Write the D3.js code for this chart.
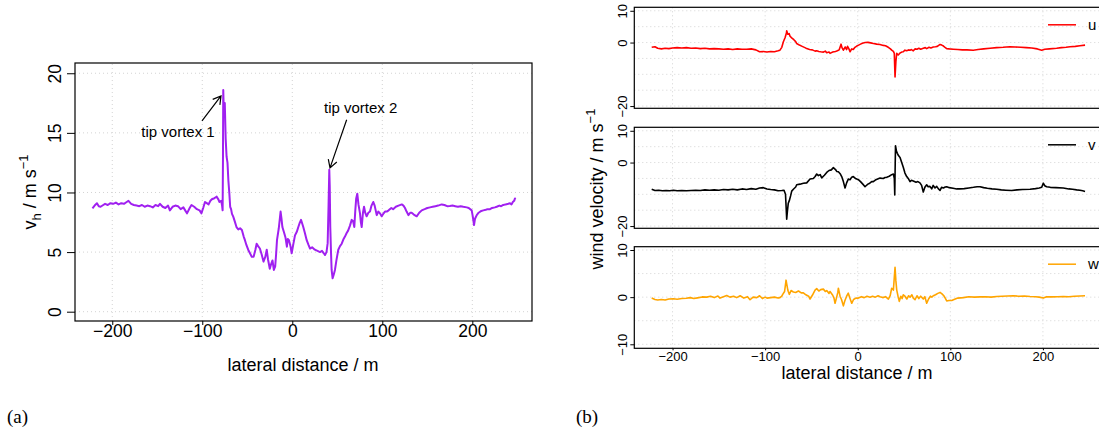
<!DOCTYPE html>
<html>
<head>
<meta charset="utf-8">
<script src="https://cdnjs.cloudflare.com/ajax/libs/d3/7.8.5/d3.min.js"></script>
<style>
  body { margin: 0; background: #fff; }
  svg { display: block; font-family: "Liberation Sans", Arial, sans-serif; }
</style>
</head>
<body>
<div id="content"></div>
<script>
// values: [lateral distance (m), velocity (m/s)]
const vhData = [[-222,8.67],[-219,8.95],[-217,9.1],[-215,8.85],[-213,8.8],[-210,8.95],[-208,9.05],[-205,8.95],[-202,9.1],[-199,9.05],[-196,9.15],[-193,9.0],[-190,9.1],[-187,9.05],[-184,9.2],[-182,9.3],[-179,9.05],[-176,8.95],[-173,8.9],[-170,8.85],[-167,8.95],[-164,8.8],[-161,8.9],[-158,8.85],[-155,8.75],[-152,8.95],[-149,8.85],[-147,9.05],[-144,8.8],[-141,8.7],[-138,8.9],[-136,8.5],[-133,8.8],[-130,8.9],[-127,8.85],[-124,8.6],[-121,8.75],[-119,8.5],[-117,8.25],[-114,8.7],[-112,8.95],[-109,8.8],[-106,8.6],[-103,8.5],[-101,8.25],[-99,8.7],[-97,9.2],[-95,9.1],[-93,9.0],[-91,9.3],[-89,9.45],[-87,9.5],[-85,9.6],[-84,9.65],[-82,9.4],[-81,9.2],[-79,9.3],[-78,8.9],[-77.4,8.5],[-77,13],[-76.7,18.6],[-76,16.5],[-75,17.5],[-74,14.5],[-73,13.0],[-72,12.5],[-71,11.0],[-70,10.0],[-69,8.8],[-68,8.6],[-67,8.2],[-65.5,7.95],[-64,7.6],[-62,7.1],[-60,6.9],[-58,7.0],[-56,6.85],[-54,6.3],[-52.6,6.0],[-51,5.6],[-49,5.2],[-47,4.9],[-45,4.6],[-43,4.6],[-41,5.2],[-39.6,5.7],[-38,5.5],[-36,5.3],[-34,4.8],[-32,4.2],[-30,4.6],[-28.4,5.2],[-27,4.4],[-25,3.6],[-23.5,4.0],[-22,4.3],[-20.5,3.5],[-19,3.8],[-18,4.8],[-17,6.0],[-15,7.0],[-13,8.4],[-12,7.8],[-11,7.1],[-9,6.6],[-7.5,6.2],[-6,5.45],[-5,6.1],[-3.7,6.0],[-2,5.5],[-0.7,4.9],[1,5.6],[3,6.4],[5,6.7],[6.7,7.1],[8,7.4],[9.7,7.7],[11,7.4],[12.2,7.1],[14,6.6],[16,6.0],[18,5.6],[19.7,5.3],[22,5.4],[25,5.2],[28,5.1],[30.8,5.0],[33,5.1],[35,4.9],[36.3,4.75],[38,5.0],[39.3,5.75],[40.3,9],[41.1,11.9],[41.6,10.5],[42.2,7.1],[43.0,5.0],[43.7,3.5],[44.8,2.8],[46,3.1],[47.4,3.5],[49,4.3],[51.1,5.2],[53,5.5],[54.9,5.7],[57,6.1],[58.5,6.3],[60.4,6.6],[62,6.8],[64,7.2],[66,7.7],[67.5,7.6],[68.9,7.1],[70,8.5],[71,9.5],[72.2,9.9],[73.5,9.0],[75.2,8.25],[76.2,7.5],[77.1,7.1],[78.5,8.3],[79.7,8.8],[81,8.3],[82.6,8.0],[84.5,8.3],[86.3,8.4],[88,8.9],[90,9.2],[91.5,8.9],[93.8,8.1],[95.5,8.4],[97.4,8.25],[99.3,8.0],[101,8.2],[103,8.4],[105,8.4],[107,8.5],[110,8.7],[112,8.6],[115,8.8],[118,8.9],[121.6,9.0],[123.5,8.9],[125.2,8.7],[127,8.4],[129,8.1],[131,8.3],[132.6,8.3],[135,8.15],[138.2,8.0],[141,8.3],[143.8,8.5],[147,8.6],[150,8.7],[153,8.75],[156,8.8],[159,8.85],[162,8.9],[166,9.0],[169,8.95],[172,8.85],[175,8.87],[178,8.9],[181,8.85],[184,8.8],[187,8.85],[190,8.8],[193.8,8.75],[196,8.7],[199.3,8.5],[200.5,8.0],[201.9,7.27],[203,7.8],[204.9,8.1],[207,8.3],[210,8.45],[212.2,8.5],[215,8.55],[217,8.6],[219.7,8.6],[222,8.7],[225,8.75],[227.1,8.8],[230,8.9],[232,8.85],[234.4,8.95],[237,9.0],[240,9.05],[241.9,9.1],[243.5,9.0],[245,9.2],[246.5,9.3],[247.4,9.5],[248,9.45]];

const uData = [[-222.5,-1.5],[-219,-1.3],[-216,-1.8],[-212,-2.0],[-208,-1.8],[-204,-1.9],[-200,-1.7],[-195,-1.6],[-190,-1.7],[-185,-1.6],[-180,-1.8],[-175,-1.7],[-170,-1.9],[-165,-1.8],[-160,-2.0],[-155,-1.9],[-150,-2.0],[-145,-2.1],[-140,-2.0],[-135,-2.2],[-130,-2.0],[-125,-2.1],[-120,-2.1],[-115,-2.0],[-110,-2.3],[-106,-2.9],[-102,-2.8],[-98,-3.0],[-94,-2.8],[-90,-2.9],[-86,-2.6],[-84,-2.4],[-82,-1.5],[-80.3,0.25],[-78.5,1.5],[-77,3.0],[-76.7,3.7],[-75.5,2.6],[-74,2.8],[-73.1,2.0],[-71,1.4],[-69,0.9],[-67,0.3],[-65.9,-0.3],[-63,-0.8],[-60,-1.2],[-57,-1.6],[-55.1,-1.9],[-52,-2.2],[-49,-2.3],[-46,-2.7],[-44.3,-2.6],[-42,-2.8],[-40,-2.9],[-37,-3.0],[-35,-2.7],[-33.5,-3.2],[-31,-3.0],[-29.9,-3.4],[-27,-3.0],[-24,-2.8],[-22,-2.6],[-20,-2.3],[-18,-0.5],[-17,-1.6],[-15.5,-2.4],[-13.5,-1.4],[-12,-2.2],[-11,-1.2],[-9.5,-2.0],[-8.3,-2.9],[-6.5,-2.0],[-4.8,-2.2],[-3,-1.5],[-1,-1.1],[1,-0.8],[3,-0.5],[5,-0.2],[8,0.0],[11,0.05],[14,-0.1],[17,-0.3],[20.5,-0.5],[24,-0.6],[27.6,-0.9],[30,-1.0],[33,-1.5],[35,-1.9],[36.7,-2.4],[38.5,-2.8],[39.5,-3.4],[40.3,-10.8],[41.2,-6],[42.1,-3.4],[43.8,-3.9],[45.7,-3.3],[47.5,-3.0],[49.2,-2.9],[51,-2.4],[52.9,-2.6],[55,-2.3],[56.5,-2.4],[58,-2.2],[60,-2.6],[62,-2.0],[64,-2.1],[66,-1.8],[68,-2.1],[70.8,-1.8],[73,-1.6],[74.5,-1.9],[77,-1.5],[79,-1.7],[81.6,-1.4],[84,-1.3],[86,-1.2],[88.9,-0.6],[90.7,-0.8],[92.6,-1.1],[94.3,-1.5],[96.1,-1.9],[99,-2.0],[103.2,-2.1],[108,-2.2],[113,-2.3],[118,-2.3],[124.8,-2.4],[130,-2.2],[136,-2.0],[142.9,-1.8],[150,-1.6],[157,-1.5],[164.5,-1.3],[170,-1.4],[176,-1.5],[182.2,-1.6],[188,-1.7],[194,-2.0],[198.7,-2.4],[202,-2.1],[207,-2.0],[214.8,-1.8],[220,-1.6],[225,-1.5],[229.3,-1.3],[235,-1.2],[240,-1.0],[245.5,-0.8]];

const vData = [[-222.5,-8.4],[-219,-8.8],[-215,-8.7],[-211,-8.9],[-207,-8.8],[-203,-8.9],[-199,-8.7],[-195,-8.9],[-190,-8.8],[-185,-8.9],[-180,-8.8],[-175,-8.7],[-170,-8.8],[-165,-8.6],[-160,-8.7],[-155,-8.6],[-150,-8.7],[-145,-8.5],[-140,-8.6],[-135,-8.4],[-130,-8.6],[-125,-8.3],[-120,-8.5],[-115,-8.2],[-110,-8.4],[-106,-8.0],[-102,-7.9],[-98,-8.3],[-94,-8.5],[-90,-8.6],[-86,-8.9],[-82,-8.8],[-79.6,-8.7],[-78,-10],[-77,-16],[-76.7,-17.8],[-76,-15.5],[-75,-12.8],[-73.9,-12.0],[-72.5,-10.5],[-71.3,-9.0],[-69.5,-8.4],[-67,-7.7],[-65.9,-7.0],[-62.3,-6.8],[-58.7,-6.5],[-55.1,-6.4],[-51.5,-5.2],[-48,-5.0],[-46,-4.4],[-44.3,-3.6],[-42.5,-4.1],[-40.5,-3.8],[-38.9,-4.8],[-36,-4.0],[-33.5,-3.1],[-31,-2.5],[-28.5,-2.3],[-26.3,-1.6],[-24,-2.2],[-22.7,-2.8],[-20.9,-2.9],[-19,-3.5],[-17.3,-4.4],[-15.5,-6.0],[-13.7,-8.0],[-12,-6.4],[-10.2,-5.2],[-8.3,-5.4],[-6.5,-4.6],[-4.8,-4.4],[-2.5,-5.0],[-1,-5.2],[0.7,-5.4],[3,-6.0],[5.5,-6.8],[7.9,-7.6],[9,-7.3],[11,-6.8],[13,-6.5],[15.1,-6.0],[16.8,-6.0],[19,-5.5],[21.5,-5.2],[24.1,-4.9],[27.6,-5.0],[29.5,-4.7],[31.3,-4.6],[34,-4.3],[36.7,-3.8],[38.5,-3.6],[39.5,-5],[40,-10.2],[40.4,-2],[40.8,5.3],[41.8,3.6],[42.8,2.9],[44,2.2],[45.7,1.6],[47.5,0.0],[49.2,-1.5],[51,-3.3],[52.9,-4.4],[55,-5.2],[56.5,-6.0],[58,-5.6],[60,-5.8],[63,-6.2],[65,-6.0],[67.2,-6.4],[69,-7.2],[70.8,-9.3],[72.5,-7.8],[74.5,-7.0],[76,-7.6],[78,-7.5],[79.9,-8.3],[81.5,-7.2],[83.5,-8.0],[85.3,-7.5],[87,-8.2],[88.9,-8.8],[90.5,-7.8],[92.5,-8.0],[94.5,-7.7],[96.1,-7.6],[99,-7.9],[103,-8.1],[106.9,-8.3],[110,-8.3],[115,-8.2],[120,-8.0],[125,-7.8],[129,-7.6],[132.1,-7.6],[136,-7.9],[140,-8.1],[145,-8.3],[150.1,-8.4],[155,-8.6],[160,-8.7],[166.3,-8.8],[172,-8.6],[178,-8.5],[186.1,-8.4],[192,-8.2],[196,-8.0],[198.7,-7.8],[200.4,-6.5],[202,-7.3],[204,-7.6],[208,-7.8],[214,-7.9],[222,-8.0],[228,-8.3],[232,-8.4],[236.5,-8.6],[240,-8.7],[243,-8.9],[245.5,-9.1]];

const wData = [[-222.5,-0.2],[-219,-0.5],[-216,-0.6],[-212,-0.5],[-208,-0.6],[-204,-0.4],[-199,-0.35],[-195,-0.45],[-190,-0.3],[-185,-0.25],[-181,-0.1],[-177,-0.3],[-173,-0.15],[-168,0.05],[-163,0.0],[-159,0.2],[-155,-0.1],[-151,0.25],[-148.7,-0.2],[-145,0.1],[-141.5,0.35],[-138,0.0],[-134,0.2],[-130.7,-0.1],[-127,0.3],[-123,-0.2],[-119,0.1],[-116.3,-0.55],[-113,0.0],[-109,-0.1],[-106,0.3],[-103,-0.3],[-100,0.0],[-98,-0.2],[-94,-0.1],[-90,0.0],[-86,-0.2],[-84,-0.1],[-82,0.2],[-81,0.6],[-79,1.2],[-77.4,3.6],[-76.7,2.8],[-75.5,1.5],[-75,1.2],[-73.9,0.6],[-72,1.4],[-69.5,1.1],[-67,1.0],[-64,1.3],[-61,0.9],[-58.7,0.9],[-56,0.5],[-53,0.2],[-51.5,-0.4],[-49,0.4],[-46.1,1.5],[-44.3,1.8],[-42,1.3],[-40,1.6],[-37.1,1.7],[-35,1.2],[-33.5,1.4],[-31,0.8],[-29.9,1.2],[-27,0.4],[-25.5,-0.3],[-24.5,-1.3],[-23,-0.2],[-21.5,1.0],[-20.9,1.9],[-19.1,0.2],[-17.5,-0.5],[-15.5,-1.85],[-14,-0.8],[-12,0.2],[-10.2,0.85],[-8.5,-0.2],[-6.5,-1.3],[-4.5,-0.5],[-2,-0.2],[0.7,-0.2],[4,0.1],[7,-0.1],[10,0.2],[13.3,0.0],[16,0.2],[19,0.0],[22,0.3],[24.1,0.1],[27,-0.1],[30,0.1],[33.1,-0.4],[35,0.3],[36.7,1.9],[38.5,1.5],[40.3,6.35],[41.2,3.5],[42.1,1.55],[43.5,0.2],[44.9,-0.9],[46.5,0.2],[48,-0.3],[49.2,0.5],[51,0.2],[53,-0.4],[55,0.3],[56.5,0.0],[58.5,0.5],[60,-0.2],[61.9,-0.55],[64,0.3],[66,-0.3],[68,0.2],[70.8,-0.4],[72.5,0.1],[74.5,-1.3],[76.5,-0.4],[78.5,0.2],[80,0.0],[81.6,0.3],[84,0.5],[86.5,0.8],[88.9,1.0],[91,0.7],[93,0.3],[94.5,-0.2],[96.1,-0.8],[98.5,-0.7],[101.5,-0.7],[104,-0.5],[108,-0.2],[114,-0.1],[120,0.1],[126,0.0],[132,0.05],[138,0.1],[144,0.0],[150.1,0.15],[156,0.2],[162,0.25],[168,0.3],[174,0.2],[180,0.25],[186.1,0.15],[192,0.1],[196,0.0],[200.4,-0.2],[204,0.1],[210,0.05],[216,0.1],[222,0.15],[228,0.1],[234,0.2],[240,0.25],[245.5,0.3]];

const xTicks = [-200, -100, 0, 100, 200];
const vhTicks = [0, 5, 10, 15, 20];
const uvTicks = [-20, 0, 10];
const uvGrid = [-20, -15, -10, -5, 0, 5, 10];
const wTicks = [-10, 0, 10];
const wGrid = [-10, -5, 0, 5, 10];

// [label, text x, text y, arrow from x, from y, arrow to x, to y] in data units
const notes = [
  ["tip vortex 1", -127, 15.1, -100.3, 16.0, -79.2, 18.1],
  ["tip vortex 2", 76, 17.1, 60.4, 16.1, 41.9, 12.06]
];

const panels = [
  {name: "u", data: uData, color: "#FF0000", ticks: uvTicks, grid: uvGrid, dom: [-20.7, 11.1], top: 7.3, bottom: 108.3},
  {name: "v", data: vData, color: "#000000", ticks: uvTicks, grid: uvGrid, dom: [-20.7, 11.1], top: 127.3, bottom: 228.3},
  {name: "w", data: wData, color: "#FFA500", ticks: wTicks, grid: wGrid, dom: [-10.85, 10.7], top: 246.7, bottom: 348.3}
];

window.onload = function() {
  let svg = d3.select("#content").append("svg")
    .attr("width", 1099)
    .attr("height", 432);
  drawLeft(svg);
  drawRight(svg);

  svg.append("text").attr("x", 7).attr("y", 423)
    .style("font-family", "'Liberation Serif', 'DejaVu Serif', serif")
    .style("font-size", "19px").text("(a)");
  svg.append("text").attr("x", 576).attr("y", 423)
    .style("font-family", "'Liberation Serif', 'DejaVu Serif', serif")
    .style("font-size", "19px").text("(b)");
};

function rotateYLabels(g, offset) {
  g.selectAll(".tick text")
    .attr("x", null).attr("dy", "0.35em")
    .attr("text-anchor", "middle")
    .attr("transform", "translate(" + offset + ",0) rotate(-90)");
}

function dottedGrid(g, xs, ys, x, y) {
  let grid = g.append("g")
    .style("stroke", "#D3D3D3")
    .style("stroke-dasharray", "1,3")
    .style("stroke-width", 1);
  xs.forEach(function(v) {
    grid.append("line")
      .attr("x1", x(v)).attr("x2", x(v))
      .attr("y1", y.range()[0]).attr("y2", y.range()[1]);
  });
  ys.forEach(function(v) {
    grid.append("line")
      .attr("x1", x.range()[0]).attr("x2", x.range()[1])
      .attr("y1", y(v)).attr("y2", y(v));
  });
}

function drawLeft(svg) {
  let x = d3.scaleLinear().domain([-241.4, 266.3]).range([75, 532]);
  let y = d3.scaleLinear().domain([-0.78, 20.86]).range([321, 63]);
  let g = svg.append("g");

  dottedGrid(g, xTicks, vhTicks, x, y);

  let line = d3.line().x(d => x(d[0])).y(d => y(d[1]));
  g.append("path")
    .datum(vhData)
    .attr("d", line)
    .style("fill", "none")
    .style("stroke", "#A020F0")
    .style("stroke-width", 2)
    .style("stroke-linejoin", "round");

  g.append("rect")
    .attr("x", 75).attr("y", 63)
    .attr("width", 457).attr("height", 258)
    .style("fill", "none").style("stroke", "#000").style("stroke-width", 1.2);

  let xa = g.append("g")
    .attr("transform", "translate(0,321)")
    .call(d3.axisBottom(x).tickValues(xTicks).tickSize(4).tickPadding(0));
  xa.select(".domain").remove();
  xa.selectAll("text").style("font-size", "17.5px").style("font-family", "'Liberation Sans', Arial, sans-serif");

  let ya = g.append("g")
    .attr("transform", "translate(75,0)")
    .call(d3.axisLeft(y).tickValues(vhTicks).tickSize(8));
  ya.select(".domain").remove();
  ya.selectAll("text").style("font-size", "17.5px").style("font-family", "'Liberation Sans', Arial, sans-serif");
  rotateYLabels(ya, -20);

  g.append("text")
    .attr("x", 303).attr("y", 371)
    .attr("text-anchor", "middle")
    .style("font-size", "18px")
    .text("lateral distance / m");

  let yt = g.append("text")
    .attr("transform", "translate(36,192) rotate(-90)")
    .attr("text-anchor", "middle")
    .style("font-size", "18px");
  yt.append("tspan").text("v");
  yt.append("tspan").attr("dy", 5).style("font-size", "13px").text("h");
  yt.append("tspan").attr("dy", -5).text(" / m s");
  yt.append("tspan").attr("dy", -8).style("font-size", "13px").text("\u22121");

  // annotations with open arrow heads
  notes.forEach(function(n) {
    g.append("text")
      .attr("x", x(n[1])).attr("y", y(n[2]))
      .attr("dy", "0.35em")
      .attr("text-anchor", "middle")
      .style("font-size", "15px")
      .text(n[0]);
    let x1 = x(n[3]), y1 = y(n[4]), x2 = x(n[5]), y2 = y(n[6]);
    let ang = Math.atan2(y2 - y1, x2 - x1);
    let len = 9, spread = Math.PI / 6;
    let p = d3.path();
    p.moveTo(x1, y1); p.lineTo(x2, y2);
    p.moveTo(x2 - len * Math.cos(ang - spread), y2 - len * Math.sin(ang - spread));
    p.lineTo(x2, y2);
    p.lineTo(x2 - len * Math.cos(ang + spread), y2 - len * Math.sin(ang + spread));
    g.append("path").attr("d", p.toString())
      .style("fill", "none").style("stroke", "#000").style("stroke-width", 1.2);
  });
}

function drawRight(svg) {
  let x = d3.scaleLinear().domain([-241.3, 266.3]).range([634.3, 1104.3]);
  let g = svg.append("g");

  panels.forEach(function(p, i) {
    let y = d3.scaleLinear().domain(p.dom).range([p.bottom, p.top]);
    let pg = g.append("g");

    dottedGrid(pg, xTicks, p.grid, x, y);

    let line = d3.line().x(d => x(d[0])).y(d => y(d[1]));
    pg.append("path")
      .datum(p.data)
      .attr("d", line)
      .style("fill", "none")
      .style("stroke", p.color)
      .style("stroke-width", 1.6)
      .style("stroke-linejoin", "round");

    pg.append("rect")
      .attr("x", 634.3).attr("y", p.top)
      .attr("width", 470).attr("height", p.bottom - p.top)
      .style("fill", "none").style("stroke", "#000").style("stroke-width", 1.2);

    let ya = pg.append("g")
      .attr("transform", "translate(634.3,0)")
      .call(d3.axisLeft(y).tickValues(p.ticks).tickSize(4));
    ya.select(".domain").remove();
    ya.selectAll("text").style("font-size", "13px").style("font-family", "'Liberation Sans', Arial, sans-serif");
    rotateYLabels(ya, -11.5);

    // legend
    let ly = p.top + 17.5;
    pg.append("line")
      .attr("x1", 1048).attr("x2", 1076)
      .attr("y1", ly).attr("y2", ly)
      .style("stroke", p.color).style("stroke-width", 1.5);
    pg.append("text")
      .attr("x", 1088).attr("y", ly).attr("dy", "0.35em")
      .style("font-size", "15px")
      .text(p.name);

    if (i == panels.length - 1) {
      let xa = pg.append("g")
        .attr("transform", "translate(0," + p.bottom + ")")
        .call(d3.axisBottom(x).tickValues(xTicks).tickSize(2).tickPadding(1));
      xa.select(".domain").remove();
      xa.selectAll("text").style("font-size", "13px").style("font-family", "'Liberation Sans', Arial, sans-serif");
    }
  });

  g.append("text")
    .attr("x", 857).attr("y", 379)
    .attr("text-anchor", "middle")
    .style("font-size", "18px")
    .text("lateral distance / m");

  let yt = g.append("text")
    .attr("transform", "translate(603,189) rotate(-90)")
    .attr("text-anchor", "middle")
    .style("font-size", "18px");
  yt.append("tspan").text("wind velocity / m s");
  yt.append("tspan").attr("dy", -8).style("font-size", "13px").text("\u22121");
}
</script>
</body>
</html>
